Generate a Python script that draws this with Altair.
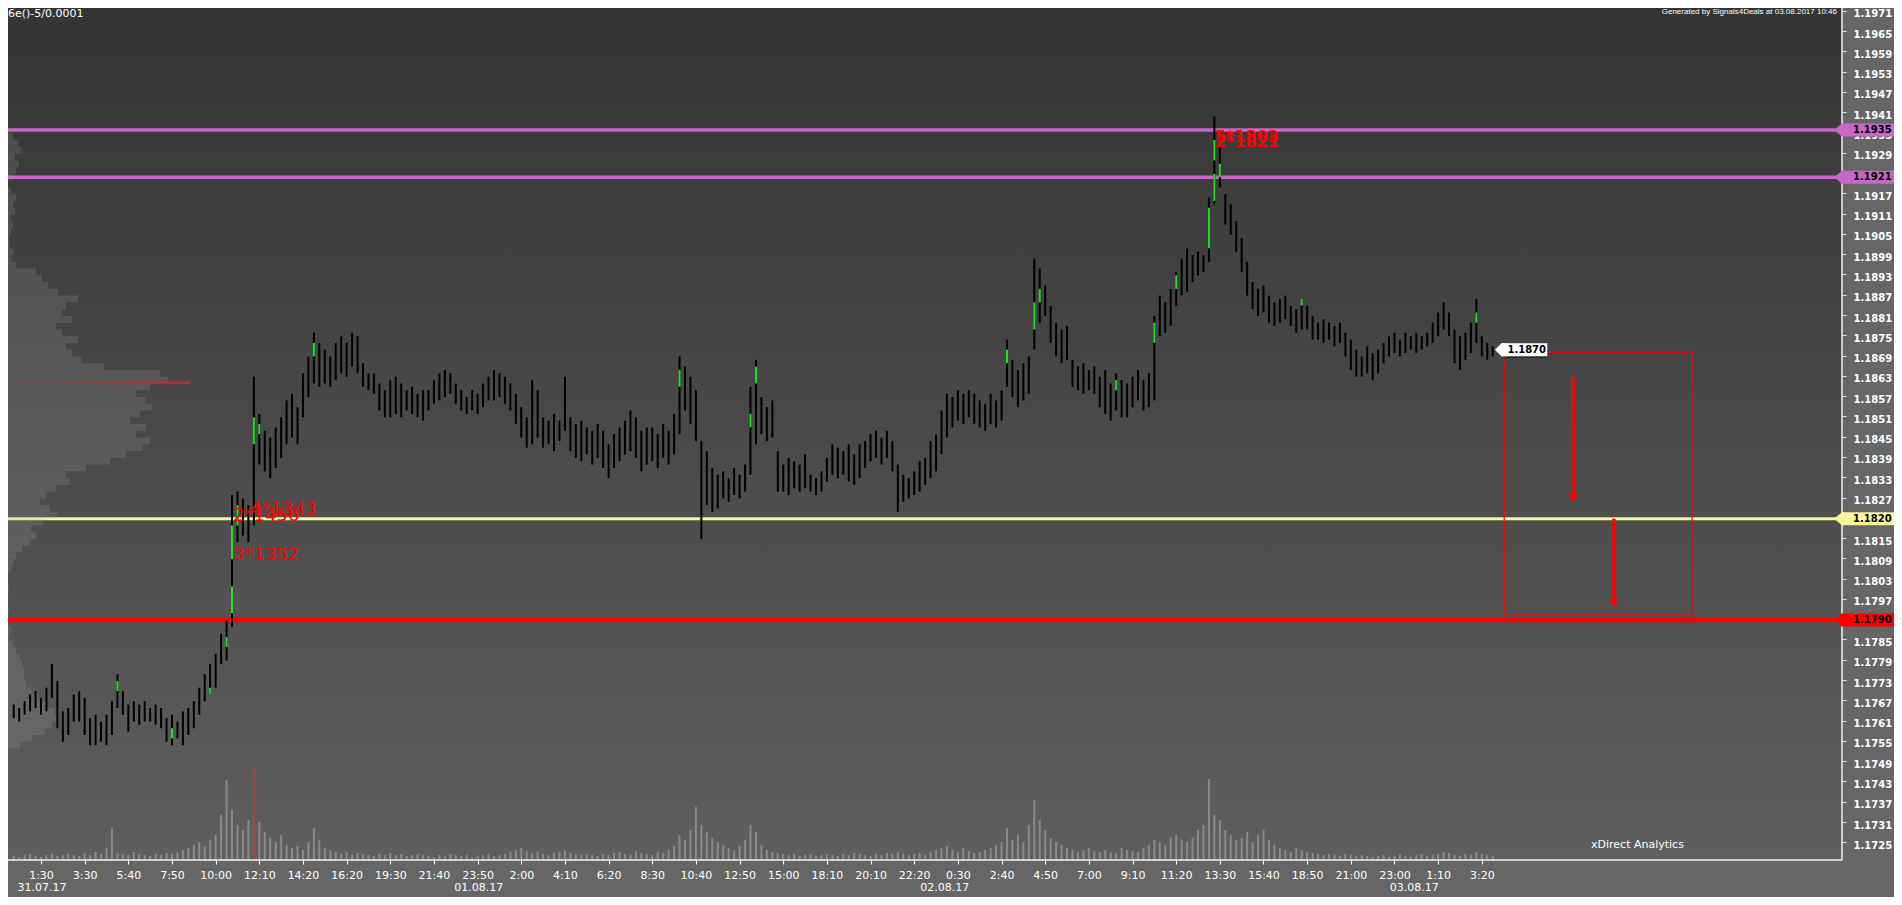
import json
import altair as alt
import pandas as pd

# ---------------- layout (plot area in px) ----------------
W, H = 1834, 852
TOP = 0
XDOM = [-0.048, 336.0]          # bar-slot units
YDOM = [1.171902, 1.197109]     # price
BASE = 1.17                     # bar prices below are stored as pips above 1.1700

# ---------------- data ----------------
tick_labels = ["1:30", "3:30", "5:40", "7:50", "10:00", "12:10", "14:20", "16:20", "19:30", "21:40",
               "23:50", "2:00", "4:10", "6:20", "8:30", "10:40", "12:50", "15:00", "18:10", "20:10",
               "22:20", "0:30", "2:40", "4:50", "7:00", "9:10", "11:20", "13:30", "15:40", "18:50",
               "21:00", "23:00", "1:10", "3:20"]
date_labels = ["31.07.17", "01.08.17", "02.08.17", "03.08.17"]
date_slots = [6.2, 86.2, 171.6, 257.6]

y_ticks = [1.1725, 1.1731, 1.1737, 1.1743, 1.1749, 1.1755, 1.1761, 1.1767, 1.1773, 1.1779,
           1.1785, 1.1791, 1.1797, 1.1803, 1.1809, 1.1815, 1.1821, 1.1827, 1.1833, 1.1839,
           1.1845, 1.1851, 1.1857, 1.1863, 1.1869, 1.1875, 1.1881, 1.1887, 1.1893, 1.1899,
           1.1905, 1.1911, 1.1917, 1.1923, 1.1929, 1.1935, 1.1941, 1.1947, 1.1953, 1.1959,
           1.1965, 1.1971]

bar_hi = [
    65, 64, 66, 68, 69, 67, 70, 77, 72, 63,
    64, 68, 69, 67, 61, 62, 60, 62, 66, 74,
    69, 65, 66, 65, 66, 64, 65, 64, 61, 62,
    60, 63, 64, 66, 70, 74, 77, 80, 86, 90,
    127, 128, 126, 124, 162, 151, 146, 144, 147, 150,
    155, 157, 153, 163, 168, 175, 172, 170, 168, 172,
    174, 172, 175, 174, 166, 163, 163, 160, 158, 161,
    162, 160, 158, 159, 157, 158, 158, 161, 163, 164,
    163, 160, 158, 156, 158, 157, 160, 162, 164, 163,
    162, 160, 157, 153, 150, 161, 158, 150, 149, 151,
    149, 162, 150, 148, 149, 147, 146, 148, 146, 142,
    145, 147, 149, 152, 150, 146, 147, 147, 145, 148,
    146, 151, 168, 165, 162, 158, 143, 140, 135, 133,
    134, 132, 135, 133, 136, 159, 167, 156, 153, 155,
    140, 136, 138, 137, 136, 139, 133, 132, 134, 138,
    142, 141, 140, 142, 139, 142, 143, 145, 146, 144,
    146, 143, 136, 133, 132, 134, 137, 138, 143, 145,
    152, 157, 156, 158, 157, 158, 157, 155, 154, 157,
    155, 158, 173, 167, 164, 166, 168, 197, 194, 189,
    183, 178, 176, 177, 167, 165, 166, 164, 165, 162,
    164, 160, 163, 161, 160, 162, 164, 161, 163, 180,
    186, 184, 188, 193, 197, 200, 198, 199, 198, 215,
    239, 230, 216, 213, 208, 203, 196, 190, 188, 189,
    186, 184, 185, 186, 183, 182, 185, 183, 180, 178,
    179, 178, 177, 178, 175, 173, 170, 168, 171, 169,
    170, 172, 174, 175, 173, 175, 174, 175, 174, 175,
    178, 181, 184, 181, 176, 174, 175, 178, 185, 174,
    172, 171]
bar_lo = [
    61, 60, 62, 63, 64, 62, 63, 67, 58, 54,
    56, 60, 60, 56, 53, 53, 54, 53, 56, 64,
    62, 57, 60, 59, 60, 60, 59, 58, 54, 53,
    55, 53, 56, 58, 62, 66, 68, 70, 77, 78,
    88, 113, 115, 113, 118, 136, 134, 132, 135, 138,
    142, 144, 142, 150, 156, 160, 159, 160, 159, 161,
    163, 162, 165, 163, 159, 158, 157, 152, 150, 150,
    151, 150, 152, 151, 150, 149, 152, 154, 155, 156,
    157, 154, 152, 151, 152, 151, 153, 155, 155, 156,
    154, 152, 148, 144, 141, 142, 144, 141, 142, 140,
    143, 146, 140, 138, 137, 139, 136, 138, 135, 132,
    135, 137, 139, 140, 138, 134, 136, 137, 135, 138,
    136, 139, 145, 152, 148, 143, 114, 124, 122, 123,
    126, 125, 127, 126, 128, 133, 142, 145, 143, 144,
    128, 128, 127, 129, 128, 129, 128, 127, 128, 131,
    133, 132, 133, 131, 130, 132, 135, 137, 138, 136,
    138, 134, 122, 125, 126, 127, 128, 130, 132, 134,
    139, 144, 147, 149, 148, 150, 148, 147, 146, 148,
    147, 149, 159, 156, 153, 155, 157, 170, 178, 180,
    172, 168, 166, 167, 159, 158, 157, 158, 157, 153,
    151, 149, 152, 150, 150, 153, 155, 152, 153, 155,
    174, 175, 177, 183, 186, 187, 190, 192, 193, 196,
    213, 218, 207, 204, 199, 193, 186, 182, 180, 181,
    178, 177, 178, 179, 177, 175, 176, 176, 173, 173,
    172, 173, 171, 172, 168, 164, 162, 162, 163, 161,
    163, 166, 168, 169, 168, 169, 170, 169, 170, 171,
    172, 174, 176, 174, 166, 164, 167, 169, 172, 168,
    167, 168]
volume = [
    4, 3, 5, 6, 4, 3, 5, 6, 4, 5,
    6, 5, 4, 7, 5, 8, 6, 12, 32, 7,
    6, 5, 8, 6, 5, 4, 6, 5, 7, 6,
    8, 10, 12, 15, 18, 14, 20, 25, 45, 80,
    50, 35, 30, 40, 90, 38, 28, 22, 18, 25,
    15, 12, 14, 10, 18, 32, 20, 12, 10, 8,
    6, 8, 5, 7, 6, 5, 4, 6, 5, 7,
    5, 6, 4, 5, 6, 5, 4, 3, 5, 4,
    6, 5, 4, 5, 3, 4, 5, 6, 4, 5,
    6, 8, 10, 12, 9, 7, 8, 6, 5, 7,
    8, 10, 7, 6, 5, 6, 5, 4, 6, 5,
    7, 8, 6, 5, 9, 7, 6, 5, 8, 7,
    10, 14, 25, 20, 30, 53, 35, 28, 22, 18,
    15, 12, 10, 14, 20, 35, 28, 15, 10, 8,
    7, 6, 5, 6, 4, 5, 6, 4, 5, 6,
    5, 4, 6, 5, 7, 6, 5, 4, 6, 5,
    7, 6, 8, 6, 5, 6, 7, 5, 8, 10,
    12, 14, 10, 8, 12, 9, 7, 8, 10, 12,
    15, 18, 32, 20, 25, 18, 35, 60, 40, 30,
    22, 18, 15, 12, 10, 8, 10, 12, 9, 8,
    10, 8, 7, 12, 10, 9, 8, 12, 15, 20,
    18, 15, 22, 25, 20, 18, 22, 30, 35, 81,
    45, 40, 30, 25, 20, 22, 28, 18, 25, 30,
    20, 15, 12, 10, 8, 12, 10, 8, 7, 6,
    5, 6, 5, 4, 6, 5, 4, 5, 4, 3,
    4, 5, 3, 4, 6, 4, 3, 5, 6, 4,
    5, 6, 8, 7, 5, 4, 6, 5, 8, 6,
    5, 4]
red_volume_slots = [45]

green_slot = [20, 30, 37, 40, 41, 41, 42, 45, 46, 56, 123, 136, 137, 183, 188, 189, 203, 210, 214, 220, 221, 221, 222, 237, 269]
green_lo = [69, 55, 68, 82, 92, 108, 118, 142, 145, 168, 159, 147, 160, 166, 176, 184, 158, 172, 188, 200, 214, 226, 221, 183, 178]
green_hi = [72, 58, 70, 85, 100, 118, 124, 150, 148, 172, 164, 151, 165, 170, 184, 188, 161, 178, 192, 212, 222, 232, 225, 185, 181]

# volume profile: 2-pip buckets from 1.1752 upwards
profile_levels = list(range(52, 240, 2))
profile_vol = [
    20, 32, 45, 52, 56, 54, 46, 38, 32, 26,
    24, 24, 22, 20, 16, 13, 9, 11, 7, 6,
    9, 5, 7, 9, 6, 8, 11, 13, 16, 22,
    30, 36, 31, 42, 57, 50, 40, 46, 56, 70,
    66, 86, 110, 126, 142, 150, 136, 146, 130, 140,
    152, 146, 136, 150, 168, 160, 104, 82, 72, 66,
    78, 62, 56, 72, 62, 66, 78, 58, 48, 42,
    36, 16, 11, 13, 10, 9, 11, 13, 11, 15,
    13, 16, 11, 8, 13, 16, 19, 15, 21, 18,
    13, 9, 7, 4]
poc_price = 1.18602
poc_span = [12, 190]

level_prices = [1.1935, 1.1921, 1.1820, 1.1790]
level_colors = ["#c967c9", "#c967c9", "#f7f79c", "#ff0000"]
level_widths = [3.5, 3.5, 3.0, 4.5]
level_labels = ["1.1935", "1.1921", "1.1820", "1.1790"]

note_text = ["3*1352", "2*1456", "4*1343"]
note_slot = [41.2, 41.2, 44.3]
note_price = [1.18093, 1.18207, 1.18226]
note2_text = ["5*1803", "2*1821"]
note2_slot = [221.1, 221.1]
note2_price = [1.19329, 1.19315]

last_price = 1.1870
last_label = "1.1870"
last_flag_slots = [273.6, 282.0]

box_slots = [274.1, 308.5]
box_prices = [1.17918, 1.18693]
arrow_slot = [286.7, 294.2]
arrow_top = [1.1862, 1.1820]
arrow_bot = [1.1826, 1.1795]

# ---------------- frames ----------------
n = len(bar_hi)
assert n == len(bar_lo) == len(volume) == 272
assert len(profile_vol) == len(profile_levels)
bars = pd.DataFrame({"u": list(range(1, n + 1)),
                     "hi": [BASE + v / 1e4 for v in bar_hi],
                     "lo": [BASE + v / 1e4 for v in bar_lo]})
vol = pd.DataFrame({"u": list(range(1, n + 1)), "v": volume, "z": [0] * n,
                    "c": ["#c83a3a" if i + 1 in red_volume_slots else "#a8a8a8" for i in range(n)]})
greens = pd.DataFrame({"u": green_slot,
                       "lo": [BASE + v / 1e4 for v in green_lo],
                       "hi": [BASE + v / 1e4 for v in green_hi]})
prof = pd.DataFrame({"p0": [BASE + p / 1e4 for p in profile_levels],
                     "p1": [BASE + (p + 2) / 1e4 for p in profile_levels],
                     "w": profile_vol, "z": [0] * len(profile_vol)})
levels = pd.DataFrame({"p": level_prices, "c": level_colors, "w": level_widths, "t": level_labels})
one = pd.DataFrame({"a": [0]})

xsc = alt.Scale(domain=XDOM, nice=False, zero=False)
ysc = alt.Scale(domain=YDOM, nice=False, zero=False)


def xq(f):
    return alt.X(f"{f}:Q", scale=xsc, axis=None)


def yq(f):
    return alt.Y(f"{f}:Q", scale=ysc, axis=None)


# background gradient of the plot area
bg = alt.Chart(one).mark_rect(
    fill=alt.LinearGradient(gradient="linear",
                            stops=[alt.GradientStop(color="#343434", offset=0),
                                   alt.GradientStop(color="#5f5f5f", offset=1)],
                            x1=0, x2=0, y1=0, y2=1)
).encode(x=alt.value(0), x2=alt.value(W), y=alt.value(0), y2=alt.value(H))

vol_layer = alt.Chart(vol).mark_rule(strokeWidth=2, opacity=0.6).encode(
    x=xq("u"),
    y=alt.Y("v:Q", scale=alt.Scale(domain=[0, H], nice=False, zero=False), axis=None),
    y2=alt.Y2("z"),
    color=alt.Color("c:N", scale=None))

level_layer = alt.Chart(levels).mark_rule(strokeCap="butt").encode(
    y=yq("p"), x=alt.value(0), x2=alt.value(W),
    color=alt.Color("c:N", scale=None), strokeWidth=alt.StrokeWidth("w:Q", scale=None))

psc = alt.Scale(domain=[8, 8 + W], nice=False, zero=False)
prof_layer = alt.Chart(prof).mark_rect(clip=True, color="#a0a0a0", opacity=0.2).encode(
    x=alt.X("z:Q", scale=psc, axis=None), x2=alt.X2("w"),
    y=yq("p0"), y2=alt.Y2("p1"))

poc_df = pd.DataFrame({"x0": [poc_span[0]], "x1": [poc_span[1]],
                       "p0": [poc_price - 0.00004], "p1": [poc_price + 0.00004]})
poc_layer = alt.Chart(poc_df).mark_rect(
    clip=True,
    fill=alt.LinearGradient(gradient="linear",
                            stops=[alt.GradientStop(color="rgba(170,40,40,0.15)", offset=0),
                                   alt.GradientStop(color="#b83030", offset=1)],
                            x1=0, x2=1, y1=0, y2=0)
).encode(x=alt.X("x0:Q", scale=psc, axis=None), x2=alt.X2("x1"), y=yq("p0"), y2=alt.Y2("p1"))

bar_layer = alt.Chart(bars).mark_rule(color="#000000", strokeWidth=2.0).encode(
    x=alt.X("u:Q", scale=xsc,
            axis=alt.Axis(orient="bottom", values=[6 + 8 * k for k in range(len(tick_labels))],
                          labelExpr=json.dumps(tick_labels).replace('"', "'") +
                          "[round((datum.value - 6) / 8)]",
                          domain=False, grid=False, tickColor="#ffffff", tickSize=4,
                          labelColor="#ffffff", labelFont="DejaVu Sans", labelFontSize=11,
                          labelPadding=5, labelFlush=False, labelOverlap=False, title=None)),
    y=alt.Y("lo:Q", scale=ysc,
            axis=alt.Axis(orient="right", values=y_ticks, format=".4f", domain=False, grid=False,
                          tickColor="#dddddd", tickSize=4, tickOffset=2.5, labelOffset=3,
                          labelColor="#ffffff",
                          labelFont="DejaVu Sans", labelFontWeight="bold", labelFontSize=10,
                          labelPadding=7, labelOverlap=False, labelFlush=False, title=None)),
    y2=alt.Y2("hi"))

green_layer = alt.Chart(greens).mark_rule(color="#22e022", strokeWidth=2).encode(
    x=xq("u"), y=yq("lo"), y2=alt.Y2("hi"))

notes = alt.Chart(pd.DataFrame({"u": note_slot, "p": note_price, "t": note_text})).mark_text(
    align="left", baseline="middle", font="DejaVu Sans", fontSize=18, color="#ff0000"
).encode(x=xq("u"), y=yq("p"), text="t:N")
notes2 = alt.Chart(pd.DataFrame({"u": note2_slot, "p": note2_price, "t": note2_text})).mark_text(
    align="left", baseline="middle", font="DejaVu Sans", fontSize=16, fontWeight="bold",
    color="#ff0000"
).encode(x=xq("u"), y=yq("p"), text="t:N")

box = alt.Chart(pd.DataFrame({"u0": [box_slots[0]], "u1": [box_slots[1]],
                              "p0": [box_prices[0]], "p1": [box_prices[1]]})).mark_rect(
    fillOpacity=0, stroke="#ff0000", strokeWidth=1.2
).encode(x=xq("u0"), x2=alt.X2("u1"), y=yq("p0"), y2=alt.Y2("p1"))

arr_df = pd.DataFrame({"u": arrow_slot, "top": arrow_top, "bot": arrow_bot})
arrows = alt.Chart(arr_df).mark_rule(color="#ff0000", strokeWidth=3.5).encode(
    x=xq("u"), y=yq("top"), y2=alt.Y2("bot"))
heads = alt.Chart(arr_df).mark_point(shape="triangle-down", filled=True, color="#ff0000",
                                     size=90, opacity=1).encode(x=xq("u"), y=yq("bot"))

last_df = pd.DataFrame({"u0": [last_flag_slots[0]], "u1": [last_flag_slots[1]],
                        "p": [last_price], "t": [last_label]})
tip_shape = "M -1 0 L 0 -1 L 1 -1 L 1 1 L 0 1 Z"
last_shadow = alt.Chart(last_df).mark_rule(color="#1c1c1c", opacity=0.6, strokeWidth=13,
                                           strokeCap="butt", xOffset=2, yOffset=2).encode(
    x=xq("u0"), x2=alt.X2("u1"), y=yq("p"))
last_box = alt.Chart(last_df).mark_rule(color="#ffffff", strokeWidth=13, strokeCap="butt").encode(
    x=xq("u0"), x2=alt.X2("u1"), y=yq("p"))
last_tip = alt.Chart(last_df).mark_point(shape=tip_shape, filled=True, color="#ffffff",
                                         size=169, opacity=1, strokeWidth=0).encode(
    x=xq("u0"), y=yq("p"))
last_text = alt.Chart(last_df).mark_text(align="left", baseline="middle", font="DejaVu Sans",
                                         fontSize=10, fontWeight="bold", color="#000000",
                                         dx=6).encode(x=xq("u0"), y=yq("p"), text="t:N")

axis_right = alt.Chart(one).mark_rule(color="#f2f2f2", strokeWidth=1.5).encode(
    x=alt.value(W), y=alt.value(0), y2=alt.value(H))
axis_bottom = alt.Chart(one).mark_rule(color="#f2f2f2", strokeWidth=1.5).encode(
    y=alt.value(H), x=alt.value(0), x2=alt.value(W))

flag_box = alt.Chart(levels).mark_rule(strokeWidth=13, strokeCap="butt").encode(
    y=yq("p"), x=alt.value(W), x2=alt.value(W + 60), color=alt.Color("c:N", scale=None))
flag_tip = alt.Chart(levels).mark_point(shape="M -0.6 0 L 0.6 -1 L 1 -1 L 1 1 L 0.6 1 Z",
                                        filled=True, size=169, opacity=1, strokeWidth=0).encode(
    y=yq("p"), x=alt.value(W - 4), color=alt.Color("c:N", scale=None))
flag_text = alt.Chart(levels).mark_text(align="left", baseline="middle", font="DejaVu Sans",
                                        fontSize=10, fontWeight="bold", color="#000000").encode(
    y=yq("p"), x=alt.value(W + 11), text="t:N")

dates = alt.Chart(pd.DataFrame({"u": date_slots, "t": date_labels})).mark_text(
    align="center", baseline="middle", font="DejaVu Sans", fontSize=11, color="#ffffff"
).encode(x=xq("u"), y=alt.value(H + 28), text="t:N")

title_left = alt.Chart(one).mark_text(align="left", baseline="top", font="DejaVu Sans",
                                      fontSize=11, color="#ffffff", text="6e()-5/0.0001").encode(
    x=alt.value(0), y=alt.value(0))
title_right = alt.Chart(one).mark_text(align="right", baseline="top", font="Liberation Sans",
                                       fontSize=8, color="#ffffff",
                                       text="Generated by Signals4Deals at 03.08.2017 10:46").encode(
    x=alt.value(W - 5), y=alt.value(0))
brand = alt.Chart(one).mark_text(align="left", baseline="middle", font="DejaVu Sans",
                                 fontSize=11, color="#ffffff", text="xDirect Analytics").encode(
    x=alt.value(1583), y=alt.value(837))

chart = alt.layer(
    bg, vol_layer, level_layer, prof_layer, poc_layer, bar_layer, green_layer,
    notes, notes2, box, arrows, heads, last_shadow, last_box, last_tip, last_text,
    axis_right, axis_bottom, flag_box, flag_tip, flag_text, dates,
    title_left, title_right, brand
).resolve_scale(x="independent", y="independent").properties(
    width=W, height=H,
    padding={"left": 0, "top": TOP, "right": 52, "bottom": 37},
    autosize=alt.AutoSizeParams(type="none")
).configure(background="#666666").configure_view(stroke=None)

chart.save("out.html", embed_options={"renderer": "svg", "actions": False})
